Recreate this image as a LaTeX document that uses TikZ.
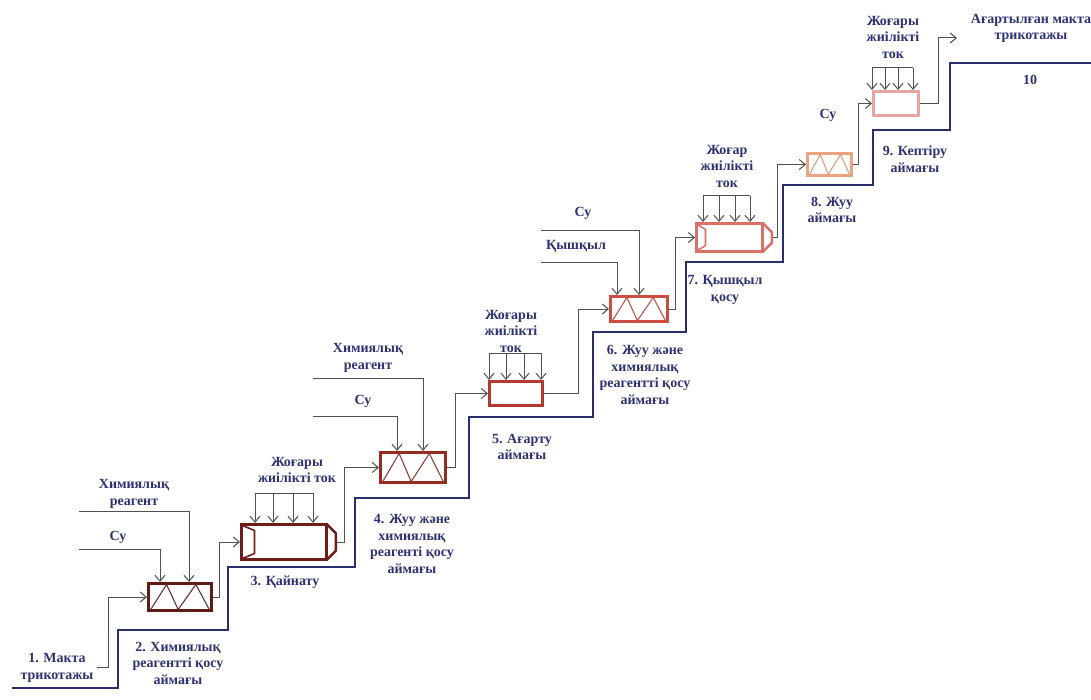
\documentclass[tikz,border=0pt]{standalone}
\usepackage{fontspec}
\setmainfont{Liberation Serif}
\usetikzlibrary{arrows.meta,calc}
\definecolor{navy}{HTML}{2A2E6C}
\definecolor{lblc}{HTML}{2E3274}
\definecolor{connc}{HTML}{505050}
\definecolor{cB}{HTML}{5C1B15}
\definecolor{cC}{HTML}{6E1E18}
\definecolor{cD}{HTML}{962A22}
\definecolor{cE}{HTML}{B33A30}
\definecolor{cF}{HTML}{CC4C42}
\definecolor{cG}{HTML}{DB7068}
\definecolor{cH}{HTML}{EBA482}
\definecolor{cI}{HTML}{E8A3A3}
% zigzag inside a mixing box
\newcommand{\zigzag}[2]{%
  \path ($(#1.south west)+(2.5,-2.5)$) coordinate (#1bl)
        ($(#1.south east)+(-2.5,-2.5)$) coordinate (#1br)
        ($(#1.north west)+(2.5,2.5)$) coordinate (#1tl)
        ($(#1.north east)+(-2.5,2.5)$) coordinate (#1tr);
  \draw[#2, line width=1.1pt, line join=round]
    ($(#1bl)!0.02!(#1br)$) -- ($(#1tl)!0.28!(#1tr)$) -- ($(#1bl)!0.47!(#1br)$)
    -- ($(#1tl)!0.76!(#1tr)$) -- ($(#1bl)!0.98!(#1br)$);}
% boiler: inner left trapezoid and right cap
\newcommand{\boiler}[3]{%
  \draw[#2, line width=1.6pt, line join=round]
    ($(#1.north west)+(2.5,2.5)$) -- ++(#3,5)
    -- ($(#1.south west)+(2.5+#3,-7.5)$) -- ($(#1.south west)+(2.5,-2.5)$);
  \draw[#2, line width=2.4pt, line join=round]
    ($(#1.north east)+(-1.2,1.2)$) -- ++(9,9) -- ($(#1.south east)+(7.8,-10.2)$) -- ($(#1.south east)+(-1.2,-1.2)$);
  \coordinate (#1out) at ($(#1.east)+(8.5,0)$);}
% bundle of four feed arrows
\newcommand{\bundle}[6]{%
  \draw[conn] (#3,#2) -- (#6,#2);
  \foreach \xx in {#3,#4,#5,#6}{%
    \coordinate (tmp) at (\xx,#2);
    \draw[arr] (tmp) -- (tmp |- #1.north);}}
\begin{document}
\begin{tikzpicture}[x=1pt,y=-1pt,
  lbl/.style={text=lblc, font=\fontsize{14}{16.5}\selectfont\bfseries, align=center, inner sep=0pt},
  conn/.style={draw=connc, line width=1pt},
  arr/.style={conn, -{Straight Barb[length=6pt,width=10pt]}},
  stair/.style={draw=navy, line width=2.4pt, line join=miter},
  box/.style={draw, line width=2.6pt, fill=white, inner sep=0pt}]
\useasboundingbox[fill=white] (0,0) rectangle (1091,700);

% staircase
\draw[stair] (12,688) -- (118,688) -- (118,630) -- (228,630) -- (228,567) -- (355,567)
  -- (355,498) -- (469,498) -- (469,417) -- (593,417) -- (593,332) -- (686,332)
  -- (686,262) -- (783,262) -- (783,185) -- (873,185) -- (873,130) -- (950,130)
  -- (950,63) -- (1091,63);

% boxes
\node[box, draw=cB, minimum width=63.4pt, minimum height=27.4pt] (b2) at (180,597) {};
\node[box, draw=cC, minimum width=85.4pt, minimum height=35.4pt] (b3) at (284,542) {};
\node[box, draw=cD, minimum width=65.4pt, minimum height=30.4pt] (b4) at (413,467.5) {};
\node[box, draw=cE, minimum width=53.4pt, minimum height=24.4pt] (b5) at (516,393.5) {};
\node[box, draw=cF, minimum width=57.4pt, minimum height=25.4pt] (b6) at (639,309) {};
\node[box, draw=cG, minimum width=66.4pt, minimum height=28.4pt] (b7) at (729.5,237.5) {};
\node[box, draw=cH, minimum width=44.4pt, minimum height=22.4pt] (b8) at (829.5,164.5) {};
\node[box, draw=cI, minimum width=45.4pt, minimum height=24.4pt] (b9) at (896,103.5) {};

\zigzag{b2}{cB!75!gray}
\zigzag{b4}{cD!75!gray}
\zigzag{b6}{cF!80!gray}
\zigzag{b8}{cH!85!gray}
\boiler{b3}{cC}{12}
\boiler{b7}{cG}{8}

% main flow
\coordinate (src1) at (97,667);
\draw[arr] (src1) -- (108,667) |- (b2.west);
\draw[arr] (b2.east) -- ++(6,0) |- (b3.west);
\draw[arr] (b3out) -- ++(8,0) |- (b4.west);
\draw[arr] (b4.east) -- ++(8,0) |- (b5.west);
\draw[arr] (b5.east) -- ++(34,0) |- (b6.west);
\draw[arr] (b6.east) -- ++(6,0) |- (b7.west);
\draw[arr] (b7out) -- ++(5,0) |- (b8.west);
\draw[arr] (b8.east) -- ++(5,0) |- (b9.west);
\coordinate (out10) at (957,38);
\draw[arr] (b9.east) -- ++(18,0) |- (out10);

% feeds
\coordinate (su2) at (79,549);
\coordinate (re2) at (79,511);
\draw[arr] (su2) -| ([xshift=13pt]b2.north west);
\draw[arr] (re2) -| ([xshift=42pt]b2.north west);
\coordinate (su4) at (313,416);
\coordinate (re4) at (313,378);
\draw[arr] (su4) -| ([xshift=18pt]b4.north west);
\draw[arr] (re4) -| ([xshift=44pt]b4.north west);
\coordinate (su6) at (541,231);
\coordinate (ky6) at (541,263);
\draw[arr] (su6) -| ([xshift=30pt]b6.north west);
\draw[arr] (ky6) -| ([xshift=8pt]b6.north west);

\bundle{b3}{493}{255}{273}{293}{313}
\bundle{b5}{353}{489}{506}{524}{541}
\bundle{b7}{196}{703}{719}{735}{750}
\bundle{b9}{68}{872}{885}{898}{913}

% labels
\node[lbl] (t1) at (57,668) {1. Макта\\трикотажы};
\node[lbl] (t2) at (178,663) {2. Химиялық\\реагентті қосу\\аймағы};
\node[lbl] (t3) at (285,582) {3. Қайнату};
\node[lbl] (t4) at (412,544) {4. Жуу және\\химиялық\\реагенті қосу\\аймағы};
\node[lbl] (t5) at (522,447) {5. Ағарту\\аймағы};
\node[lbl] (t6) at (645,375) {6. Жуу және\\химиялық\\реагентті қосу\\аймағы};
\node[lbl] (t7) at (725,290) {7. Қышқыл\\қосу};
\node[lbl] (t8) at (832,210) {8. Жуу\\аймағы};
\node[lbl] (t9) at (915,159) {9. Кептіру\\аймағы};
\node[lbl] (t10) at (1030,80) {10};
\node[lbl] (tout) at (1031,28.5) {Ағартылған макта\\трикотажы};

\node[lbl] (lr2) at (134,494) {Химиялық\\реагент};
\node[lbl] (ls2) at (118,537) {Су};
\node[lbl] (lt3) at (297,470) {Жоғары\\жиілікті ток};
\node[lbl] (lr4) at (368,358) {Химиялық\\реагент};
\node[lbl] (ls4) at (363,401) {Су};
\node[lbl] (lt5) at (511,331) {Жоғары\\жиілікті\\ток};
\node[lbl] (ls6) at (583,213) {Су};
\node[lbl] (lk6) at (576,246) {Қышқыл};
\node[lbl] (lt7) at (727,166) {Жоғар\\жиілікті\\ток};
\node[lbl] (ls8) at (828,115) {Су};
\node[lbl] (lt9) at (893,37) {Жоғары\\жиілікті\\ток};
\end{tikzpicture}
\end{document}
